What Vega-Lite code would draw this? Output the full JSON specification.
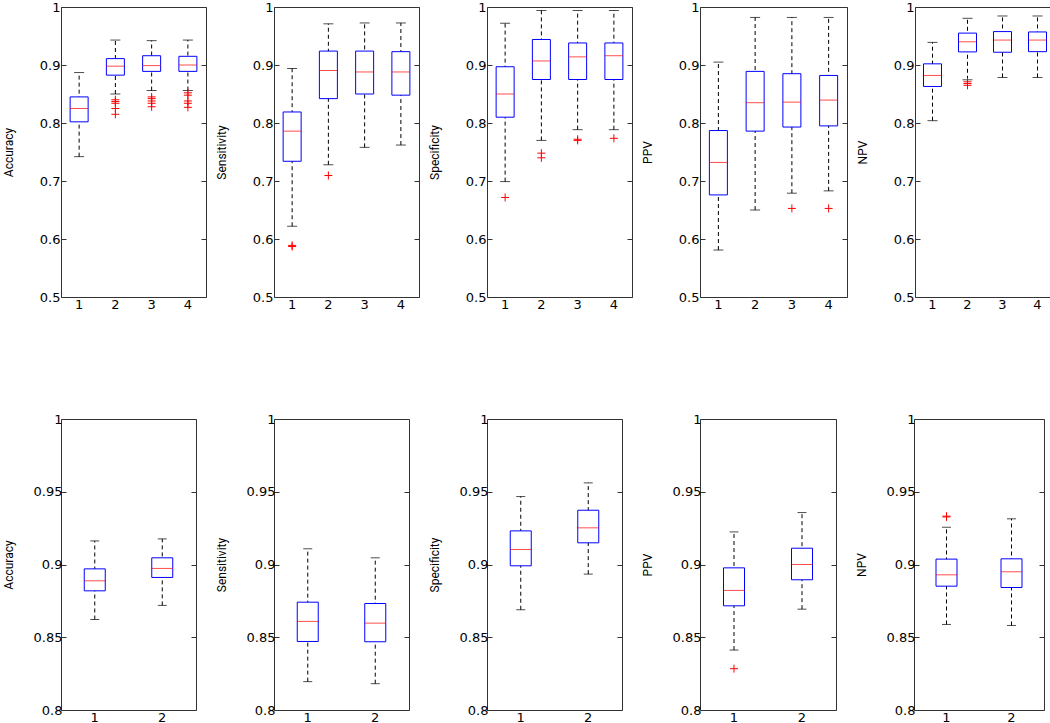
{
"$schema":"https://vega.github.io/schema/vega-lite/v6.json",
"padding":{"left":1,"top":0,"right":0,"bottom":0},
"background":"white",
"config":{
 "view":{"stroke":"#333333","strokeWidth":1},
 "axis":{"labelFont":"DejaVu Sans","labelFontSize":13,"labelColor":"#000","titleFont":"Roboto","titleFontSize":12,"titleFontWeight":"normal","titleColor":"#000","tickColor":"#333","domain":false,"grid":false}
},
"datasets":{
 "box":[
  {"p":"A1","g":1,"lo":0.742,"q1":0.802,"med":0.825,"q3":0.845,"hi":0.887},
  {"p":"A1","g":2,"lo":0.850,"q1":0.8825,"med":0.898,"q3":0.911,"hi":0.943},
  {"p":"A1","g":3,"lo":0.856,"q1":0.889,"med":0.899,"q3":0.916,"hi":0.942},
  {"p":"A1","g":4,"lo":0.856,"q1":0.889,"med":0.900,"q3":0.915,"hi":0.943},
  {"p":"B1","g":1,"lo":0.622,"q1":0.734,"med":0.786,"q3":0.819,"hi":0.894},
  {"p":"B1","g":2,"lo":0.728,"q1":0.842,"med":0.8905,"q3":0.924,"hi":0.971},
  {"p":"B1","g":3,"lo":0.758,"q1":0.850,"med":0.888,"q3":0.924,"hi":0.9725},
  {"p":"B1","g":4,"lo":0.762,"q1":0.848,"med":0.888,"q3":0.923,"hi":0.9725},
  {"p":"C1","g":1,"lo":0.699,"q1":0.810,"med":0.850,"q3":0.897,"hi":0.972},
  {"p":"C1","g":2,"lo":0.770,"q1":0.875,"med":0.907,"q3":0.944,"hi":0.994},
  {"p":"C1","g":3,"lo":0.7885,"q1":0.875,"med":0.914,"q3":0.938,"hi":0.994},
  {"p":"C1","g":4,"lo":0.7885,"q1":0.875,"med":0.916,"q3":0.938,"hi":0.994},
  {"p":"D1","g":1,"lo":0.581,"q1":0.676,"med":0.732,"q3":0.787,"hi":0.905},
  {"p":"D1","g":2,"lo":0.650,"q1":0.786,"med":0.835,"q3":0.889,"hi":0.982},
  {"p":"D1","g":3,"lo":0.679,"q1":0.793,"med":0.836,"q3":0.885,"hi":0.982},
  {"p":"D1","g":4,"lo":0.683,"q1":0.795,"med":0.8395,"q3":0.882,"hi":0.982},
  {"p":"E1","g":1,"lo":0.804,"q1":0.863,"med":0.882,"q3":0.902,"hi":0.939},
  {"p":"E1","g":2,"lo":0.8745,"q1":0.9226,"med":0.940,"q3":0.955,"hi":0.9805},
  {"p":"E1","g":3,"lo":0.8785,"q1":0.922,"med":0.943,"q3":0.9576,"hi":0.9845},
  {"p":"E1","g":4,"lo":0.8785,"q1":0.923,"med":0.943,"q3":0.957,"hi":0.9845},
  {"p":"A2","g":1,"lo":0.8622,"q1":0.8819,"med":0.8888,"q3":0.897,"hi":0.9162},
  {"p":"A2","g":2,"lo":0.8719,"q1":0.8911,"med":0.8973,"q3":0.9046,"hi":0.9176},
  {"p":"B2","g":1,"lo":0.8195,"q1":0.8471,"med":0.8609,"q3":0.8741,"hi":0.9108},
  {"p":"B2","g":2,"lo":0.8181,"q1":0.8469,"med":0.8597,"q3":0.8732,"hi":0.9046},
  {"p":"C2","g":1,"lo":0.8689,"q1":0.8991,"med":0.9103,"q3":0.9231,"hi":0.9467},
  {"p":"C2","g":2,"lo":0.8934,"q1":0.9149,"med":0.9252,"q3":0.9373,"hi":0.9561},
  {"p":"D2","g":1,"lo":0.8412,"q1":0.8716,"med":0.8822,"q3":0.8977,"hi":0.9224},
  {"p":"D2","g":2,"lo":0.8693,"q1":0.8895,"med":0.900,"q3":0.9112,"hi":0.9357},
  {"p":"E2","g":1,"lo":0.8588,"q1":0.8851,"med":0.8929,"q3":0.9037,"hi":0.9256},
  {"p":"E2","g":2,"lo":0.8581,"q1":0.8842,"med":0.895,"q3":0.9039,"hi":0.9314}
 ],
 "out":[
  {"p":"A1","g":2,"v":0.840},{"p":"A1","g":2,"v":0.837},{"p":"A1","g":2,"v":0.834},{"p":"A1","g":2,"v":0.825},{"p":"A1","g":2,"v":0.815},
  {"p":"A1","g":3,"v":0.845},{"p":"A1","g":3,"v":0.842},{"p":"A1","g":3,"v":0.838},{"p":"A1","g":3,"v":0.834},{"p":"A1","g":3,"v":0.828},
  {"p":"A1","g":4,"v":0.852},{"p":"A1","g":4,"v":0.848},{"p":"A1","g":4,"v":0.838},{"p":"A1","g":4,"v":0.834},{"p":"A1","g":4,"v":0.827},
  {"p":"B1","g":1,"v":0.589},{"p":"B1","g":1,"v":0.587},{"p":"B1","g":2,"v":0.7095},
  {"p":"C1","g":1,"v":0.6716},{"p":"C1","g":2,"v":0.748},{"p":"C1","g":2,"v":0.740},{"p":"C1","g":3,"v":0.772},{"p":"C1","g":3,"v":0.770},{"p":"C1","g":4,"v":0.7736},
  {"p":"D1","g":3,"v":0.6527},{"p":"D1","g":4,"v":0.6527},
  {"p":"E1","g":2,"v":0.871},{"p":"E1","g":2,"v":0.868},{"p":"E1","g":2,"v":0.865},
  {"p":"D2","g":1,"v":0.8284},
  {"p":"E2","g":1,"v":0.9327},{"p":"E2","g":1,"v":0.9332}
 ]
},
"spacing":100,
"vconcat":[
 {"bounds":"flush","spacing":68,"hconcat":[
  {"width":145,"height":290,"data":{"name":"box"},"transform":[{"filter":{"field":"p","equal":"A1"}}],
   "encoding":{"x":{"field":"g","type":"ordinal","scale":{"paddingInner":0,"paddingOuter":0},"axis":{"title":null,"labelAngle":0,"ticks":false,"labelPadding":1}}},
   "resolve":{"axis":{"y":"independent"}},
   "layer":[
    {"mark":{"type":"rule","strokeDash":[4,3],"color":"#000"},"encoding":{"y":{"field":"lo","type":"quantitative","scale":{"domain":[0.5,1],"nice":false,"zero":false},"axis":{"title":"Accuracy","orient":"left","values":[0.5,0.6,0.7,0.8,0.9,1],"format":".1~f","tickSize":-5,"labelPadding":6,"titlePadding":24}},"y2":{"field":"hi"}}},
    {"mark":{"type":"bar","width":18,"fill":"white","stroke":"#0000ff","strokeWidth":1},"encoding":{"y":{"field":"q1","type":"quantitative","scale":{"domain":[0.5,1],"nice":false,"zero":false},"axis":{"title":null,"orient":"right","values":[0.5,0.6,0.7,0.8,0.9,1],"labels":false,"tickSize":-5}},"y2":{"field":"q3"}}},
    {"mark":{"type":"tick","size":10,"thickness":1,"color":"#000"},"encoding":{"y":{"field":"lo","type":"quantitative","scale":{"domain":[0.5,1],"nice":false,"zero":false},"axis":null}}},
    {"mark":{"type":"tick","size":10,"thickness":1,"color":"#000"},"encoding":{"y":{"field":"hi","type":"quantitative","scale":{"domain":[0.5,1],"nice":false,"zero":false},"axis":null}}},
    {"mark":{"type":"tick","size":18,"thickness":1,"color":"#ff0000"},"encoding":{"y":{"field":"med","type":"quantitative","scale":{"domain":[0.5,1],"nice":false,"zero":false},"axis":null}}},
    {"data":{"name":"out"},"transform":[{"filter":{"field":"p","equal":"A1"}}],"mark":{"type":"point","shape":"M-1,0L1,0M0,-1L0,1","size":64,"stroke":"#ff0000","strokeWidth":1,"filled":false,"opacity":1},"encoding":{"y":{"field":"v","type":"quantitative","scale":{"domain":[0.5,1],"nice":false,"zero":false},"axis":null}}}
   ]},
  {"width":145,"height":290,"data":{"name":"box"},"transform":[{"filter":{"field":"p","equal":"B1"}}],
   "encoding":{"x":{"field":"g","type":"ordinal","scale":{"paddingInner":0,"paddingOuter":0},"axis":{"title":null,"labelAngle":0,"ticks":false,"labelPadding":1}}},
   "resolve":{"axis":{"y":"independent"}},
   "layer":[
    {"mark":{"type":"rule","strokeDash":[4,3],"color":"#000"},"encoding":{"y":{"field":"lo","type":"quantitative","scale":{"domain":[0.5,1],"nice":false,"zero":false},"axis":{"title":"Sensitivity","orient":"left","values":[0.5,0.6,0.7,0.8,0.9,1],"format":".1~f","tickSize":-5,"labelPadding":6,"titlePadding":24}},"y2":{"field":"hi"}}},
    {"mark":{"type":"bar","width":18,"fill":"white","stroke":"#0000ff","strokeWidth":1},"encoding":{"y":{"field":"q1","type":"quantitative","scale":{"domain":[0.5,1],"nice":false,"zero":false},"axis":{"title":null,"orient":"right","values":[0.5,0.6,0.7,0.8,0.9,1],"labels":false,"tickSize":-5}},"y2":{"field":"q3"}}},
    {"mark":{"type":"tick","size":10,"thickness":1,"color":"#000"},"encoding":{"y":{"field":"lo","type":"quantitative","scale":{"domain":[0.5,1],"nice":false,"zero":false},"axis":null}}},
    {"mark":{"type":"tick","size":10,"thickness":1,"color":"#000"},"encoding":{"y":{"field":"hi","type":"quantitative","scale":{"domain":[0.5,1],"nice":false,"zero":false},"axis":null}}},
    {"mark":{"type":"tick","size":18,"thickness":1,"color":"#ff0000"},"encoding":{"y":{"field":"med","type":"quantitative","scale":{"domain":[0.5,1],"nice":false,"zero":false},"axis":null}}},
    {"data":{"name":"out"},"transform":[{"filter":{"field":"p","equal":"B1"}}],"mark":{"type":"point","shape":"M-1,0L1,0M0,-1L0,1","size":64,"stroke":"#ff0000","strokeWidth":1,"filled":false,"opacity":1},"encoding":{"y":{"field":"v","type":"quantitative","scale":{"domain":[0.5,1],"nice":false,"zero":false},"axis":null}}}
   ]},
  {"width":145,"height":290,"data":{"name":"box"},"transform":[{"filter":{"field":"p","equal":"C1"}}],
   "encoding":{"x":{"field":"g","type":"ordinal","scale":{"paddingInner":0,"paddingOuter":0},"axis":{"title":null,"labelAngle":0,"ticks":false,"labelPadding":1}}},
   "resolve":{"axis":{"y":"independent"}},
   "layer":[
    {"mark":{"type":"rule","strokeDash":[4,3],"color":"#000"},"encoding":{"y":{"field":"lo","type":"quantitative","scale":{"domain":[0.5,1],"nice":false,"zero":false},"axis":{"title":"Specificity","orient":"left","values":[0.5,0.6,0.7,0.8,0.9,1],"format":".1~f","tickSize":-5,"labelPadding":6,"titlePadding":24}},"y2":{"field":"hi"}}},
    {"mark":{"type":"bar","width":18,"fill":"white","stroke":"#0000ff","strokeWidth":1},"encoding":{"y":{"field":"q1","type":"quantitative","scale":{"domain":[0.5,1],"nice":false,"zero":false},"axis":{"title":null,"orient":"right","values":[0.5,0.6,0.7,0.8,0.9,1],"labels":false,"tickSize":-5}},"y2":{"field":"q3"}}},
    {"mark":{"type":"tick","size":10,"thickness":1,"color":"#000"},"encoding":{"y":{"field":"lo","type":"quantitative","scale":{"domain":[0.5,1],"nice":false,"zero":false},"axis":null}}},
    {"mark":{"type":"tick","size":10,"thickness":1,"color":"#000"},"encoding":{"y":{"field":"hi","type":"quantitative","scale":{"domain":[0.5,1],"nice":false,"zero":false},"axis":null}}},
    {"mark":{"type":"tick","size":18,"thickness":1,"color":"#ff0000"},"encoding":{"y":{"field":"med","type":"quantitative","scale":{"domain":[0.5,1],"nice":false,"zero":false},"axis":null}}},
    {"data":{"name":"out"},"transform":[{"filter":{"field":"p","equal":"C1"}}],"mark":{"type":"point","shape":"M-1,0L1,0M0,-1L0,1","size":64,"stroke":"#ff0000","strokeWidth":1,"filled":false,"opacity":1},"encoding":{"y":{"field":"v","type":"quantitative","scale":{"domain":[0.5,1],"nice":false,"zero":false},"axis":null}}}
   ]},
  {"width":147,"height":290,"data":{"name":"box"},"transform":[{"filter":{"field":"p","equal":"D1"}}],
   "encoding":{"x":{"field":"g","type":"ordinal","scale":{"paddingInner":0,"paddingOuter":0},"axis":{"title":null,"labelAngle":0,"ticks":false,"labelPadding":1}}},
   "resolve":{"axis":{"y":"independent"}},
   "layer":[
    {"mark":{"type":"rule","strokeDash":[4,3],"color":"#000"},"encoding":{"y":{"field":"lo","type":"quantitative","scale":{"domain":[0.5,1],"nice":false,"zero":false},"axis":{"title":"PPV","orient":"left","values":[0.5,0.6,0.7,0.8,0.9,1],"format":".1~f","tickSize":-5,"labelPadding":6,"titlePadding":24}},"y2":{"field":"hi"}}},
    {"mark":{"type":"bar","width":18,"fill":"white","stroke":"#0000ff","strokeWidth":1},"encoding":{"y":{"field":"q1","type":"quantitative","scale":{"domain":[0.5,1],"nice":false,"zero":false},"axis":{"title":null,"orient":"right","values":[0.5,0.6,0.7,0.8,0.9,1],"labels":false,"tickSize":-5}},"y2":{"field":"q3"}}},
    {"mark":{"type":"tick","size":10,"thickness":1,"color":"#000"},"encoding":{"y":{"field":"lo","type":"quantitative","scale":{"domain":[0.5,1],"nice":false,"zero":false},"axis":null}}},
    {"mark":{"type":"tick","size":10,"thickness":1,"color":"#000"},"encoding":{"y":{"field":"hi","type":"quantitative","scale":{"domain":[0.5,1],"nice":false,"zero":false},"axis":null}}},
    {"mark":{"type":"tick","size":18,"thickness":1,"color":"#ff0000"},"encoding":{"y":{"field":"med","type":"quantitative","scale":{"domain":[0.5,1],"nice":false,"zero":false},"axis":null}}},
    {"data":{"name":"out"},"transform":[{"filter":{"field":"p","equal":"D1"}}],"mark":{"type":"point","shape":"M-1,0L1,0M0,-1L0,1","size":64,"stroke":"#ff0000","strokeWidth":1,"filled":false,"opacity":1},"encoding":{"y":{"field":"v","type":"quantitative","scale":{"domain":[0.5,1],"nice":false,"zero":false},"axis":null}}}
   ]},
  {"width":140,"height":290,"data":{"name":"box"},"transform":[{"filter":{"field":"p","equal":"E1"}}],
   "encoding":{"x":{"field":"g","type":"ordinal","scale":{"paddingInner":0,"paddingOuter":0},"axis":{"title":null,"labelAngle":0,"ticks":false,"labelPadding":1}}},
   "resolve":{"axis":{"y":"independent"}},
   "layer":[
    {"mark":{"type":"rule","strokeDash":[4,3],"color":"#000"},"encoding":{"y":{"field":"lo","type":"quantitative","scale":{"domain":[0.5,1],"nice":false,"zero":false},"axis":{"title":"NPV","orient":"left","values":[0.5,0.6,0.7,0.8,0.9,1],"format":".1~f","tickSize":-5,"labelPadding":6,"titlePadding":24}},"y2":{"field":"hi"}}},
    {"mark":{"type":"bar","width":18,"fill":"white","stroke":"#0000ff","strokeWidth":1},"encoding":{"y":{"field":"q1","type":"quantitative","scale":{"domain":[0.5,1],"nice":false,"zero":false},"axis":{"title":null,"orient":"right","values":[0.5,0.6,0.7,0.8,0.9,1],"labels":false,"tickSize":-5}},"y2":{"field":"q3"}}},
    {"mark":{"type":"tick","size":10,"thickness":1,"color":"#000"},"encoding":{"y":{"field":"lo","type":"quantitative","scale":{"domain":[0.5,1],"nice":false,"zero":false},"axis":null}}},
    {"mark":{"type":"tick","size":10,"thickness":1,"color":"#000"},"encoding":{"y":{"field":"hi","type":"quantitative","scale":{"domain":[0.5,1],"nice":false,"zero":false},"axis":null}}},
    {"mark":{"type":"tick","size":18,"thickness":1,"color":"#ff0000"},"encoding":{"y":{"field":"med","type":"quantitative","scale":{"domain":[0.5,1],"nice":false,"zero":false},"axis":null}}},
    {"data":{"name":"out"},"transform":[{"filter":{"field":"p","equal":"E1"}}],"mark":{"type":"point","shape":"M-1,0L1,0M0,-1L0,1","size":64,"stroke":"#ff0000","strokeWidth":1,"filled":false,"opacity":1},"encoding":{"y":{"field":"v","type":"quantitative","scale":{"domain":[0.5,1],"nice":false,"zero":false},"axis":null}}}
   ]}
 ]},
 {"bounds":"flush","spacing":78,"hconcat":[
  {"width":135,"height":291,"data":{"name":"box"},"transform":[{"filter":{"field":"p","equal":"A2"}}],
   "encoding":{"x":{"field":"g","type":"ordinal","scale":{"paddingInner":0,"paddingOuter":0},"axis":{"title":null,"labelAngle":0,"ticks":false,"labelPadding":1}}},
   "resolve":{"axis":{"y":"independent"}},
   "layer":[
    {"mark":{"type":"rule","strokeDash":[4,3],"color":"#000"},"encoding":{"y":{"field":"lo","type":"quantitative","scale":{"domain":[0.8,1],"nice":false,"zero":false},"axis":{"title":"Accuracy","orient":"left","values":[0.8,0.85,0.9,0.95,1],"format":".2~f","tickSize":-5,"labelPadding":4,"titlePadding":18}},"y2":{"field":"hi"}}},
    {"mark":{"type":"bar","width":21,"fill":"white","stroke":"#0000ff","strokeWidth":1},"encoding":{"y":{"field":"q1","type":"quantitative","scale":{"domain":[0.8,1],"nice":false,"zero":false},"axis":{"title":null,"orient":"right","values":[0.8,0.85,0.9,0.95,1],"labels":false,"tickSize":-5}},"y2":{"field":"q3"}}},
    {"mark":{"type":"tick","size":9,"thickness":1,"color":"#000"},"encoding":{"y":{"field":"lo","type":"quantitative","scale":{"domain":[0.8,1],"nice":false,"zero":false},"axis":null}}},
    {"mark":{"type":"tick","size":9,"thickness":1,"color":"#000"},"encoding":{"y":{"field":"hi","type":"quantitative","scale":{"domain":[0.8,1],"nice":false,"zero":false},"axis":null}}},
    {"mark":{"type":"tick","size":21,"thickness":1,"color":"#ff0000"},"encoding":{"y":{"field":"med","type":"quantitative","scale":{"domain":[0.8,1],"nice":false,"zero":false},"axis":null}}},
    {"data":{"name":"out"},"transform":[{"filter":{"field":"p","equal":"A2"}}],"mark":{"type":"point","shape":"M-1,0L1,0M0,-1L0,1","size":64,"stroke":"#ff0000","strokeWidth":1,"filled":false,"opacity":1},"encoding":{"y":{"field":"v","type":"quantitative","scale":{"domain":[0.8,1],"nice":false,"zero":false},"axis":null}}}
   ]},
  {"width":135,"height":291,"data":{"name":"box"},"transform":[{"filter":{"field":"p","equal":"B2"}}],
   "encoding":{"x":{"field":"g","type":"ordinal","scale":{"paddingInner":0,"paddingOuter":0},"axis":{"title":null,"labelAngle":0,"ticks":false,"labelPadding":1}}},
   "resolve":{"axis":{"y":"independent"}},
   "layer":[
    {"mark":{"type":"rule","strokeDash":[4,3],"color":"#000"},"encoding":{"y":{"field":"lo","type":"quantitative","scale":{"domain":[0.8,1],"nice":false,"zero":false},"axis":{"title":"Sensitivity","orient":"left","values":[0.8,0.85,0.9,0.95,1],"format":".2~f","tickSize":-5,"labelPadding":4,"titlePadding":18}},"y2":{"field":"hi"}}},
    {"mark":{"type":"bar","width":21,"fill":"white","stroke":"#0000ff","strokeWidth":1},"encoding":{"y":{"field":"q1","type":"quantitative","scale":{"domain":[0.8,1],"nice":false,"zero":false},"axis":{"title":null,"orient":"right","values":[0.8,0.85,0.9,0.95,1],"labels":false,"tickSize":-5}},"y2":{"field":"q3"}}},
    {"mark":{"type":"tick","size":9,"thickness":1,"color":"#000"},"encoding":{"y":{"field":"lo","type":"quantitative","scale":{"domain":[0.8,1],"nice":false,"zero":false},"axis":null}}},
    {"mark":{"type":"tick","size":9,"thickness":1,"color":"#000"},"encoding":{"y":{"field":"hi","type":"quantitative","scale":{"domain":[0.8,1],"nice":false,"zero":false},"axis":null}}},
    {"mark":{"type":"tick","size":21,"thickness":1,"color":"#ff0000"},"encoding":{"y":{"field":"med","type":"quantitative","scale":{"domain":[0.8,1],"nice":false,"zero":false},"axis":null}}},
    {"data":{"name":"out"},"transform":[{"filter":{"field":"p","equal":"B2"}}],"mark":{"type":"point","shape":"M-1,0L1,0M0,-1L0,1","size":64,"stroke":"#ff0000","strokeWidth":1,"filled":false,"opacity":1},"encoding":{"y":{"field":"v","type":"quantitative","scale":{"domain":[0.8,1],"nice":false,"zero":false},"axis":null}}}
   ]},
  {"width":135,"height":291,"data":{"name":"box"},"transform":[{"filter":{"field":"p","equal":"C2"}}],
   "encoding":{"x":{"field":"g","type":"ordinal","scale":{"paddingInner":0,"paddingOuter":0},"axis":{"title":null,"labelAngle":0,"ticks":false,"labelPadding":1}}},
   "resolve":{"axis":{"y":"independent"}},
   "layer":[
    {"mark":{"type":"rule","strokeDash":[4,3],"color":"#000"},"encoding":{"y":{"field":"lo","type":"quantitative","scale":{"domain":[0.8,1],"nice":false,"zero":false},"axis":{"title":"Specificity","orient":"left","values":[0.8,0.85,0.9,0.95,1],"format":".2~f","tickSize":-5,"labelPadding":4,"titlePadding":18}},"y2":{"field":"hi"}}},
    {"mark":{"type":"bar","width":21,"fill":"white","stroke":"#0000ff","strokeWidth":1},"encoding":{"y":{"field":"q1","type":"quantitative","scale":{"domain":[0.8,1],"nice":false,"zero":false},"axis":{"title":null,"orient":"right","values":[0.8,0.85,0.9,0.95,1],"labels":false,"tickSize":-5}},"y2":{"field":"q3"}}},
    {"mark":{"type":"tick","size":9,"thickness":1,"color":"#000"},"encoding":{"y":{"field":"lo","type":"quantitative","scale":{"domain":[0.8,1],"nice":false,"zero":false},"axis":null}}},
    {"mark":{"type":"tick","size":9,"thickness":1,"color":"#000"},"encoding":{"y":{"field":"hi","type":"quantitative","scale":{"domain":[0.8,1],"nice":false,"zero":false},"axis":null}}},
    {"mark":{"type":"tick","size":21,"thickness":1,"color":"#ff0000"},"encoding":{"y":{"field":"med","type":"quantitative","scale":{"domain":[0.8,1],"nice":false,"zero":false},"axis":null}}},
    {"data":{"name":"out"},"transform":[{"filter":{"field":"p","equal":"C2"}}],"mark":{"type":"point","shape":"M-1,0L1,0M0,-1L0,1","size":64,"stroke":"#ff0000","strokeWidth":1,"filled":false,"opacity":1},"encoding":{"y":{"field":"v","type":"quantitative","scale":{"domain":[0.8,1],"nice":false,"zero":false},"axis":null}}}
   ]},
  {"width":136,"height":291,"data":{"name":"box"},"transform":[{"filter":{"field":"p","equal":"D2"}}],
   "encoding":{"x":{"field":"g","type":"ordinal","scale":{"paddingInner":0,"paddingOuter":0},"axis":{"title":null,"labelAngle":0,"ticks":false,"labelPadding":1}}},
   "resolve":{"axis":{"y":"independent"}},
   "layer":[
    {"mark":{"type":"rule","strokeDash":[4,3],"color":"#000"},"encoding":{"y":{"field":"lo","type":"quantitative","scale":{"domain":[0.8,1],"nice":false,"zero":false},"axis":{"title":"PPV","orient":"left","values":[0.8,0.85,0.9,0.95,1],"format":".2~f","tickSize":-5,"labelPadding":4,"titlePadding":18}},"y2":{"field":"hi"}}},
    {"mark":{"type":"bar","width":21,"fill":"white","stroke":"#0000ff","strokeWidth":1},"encoding":{"y":{"field":"q1","type":"quantitative","scale":{"domain":[0.8,1],"nice":false,"zero":false},"axis":{"title":null,"orient":"right","values":[0.8,0.85,0.9,0.95,1],"labels":false,"tickSize":-5}},"y2":{"field":"q3"}}},
    {"mark":{"type":"tick","size":9,"thickness":1,"color":"#000"},"encoding":{"y":{"field":"lo","type":"quantitative","scale":{"domain":[0.8,1],"nice":false,"zero":false},"axis":null}}},
    {"mark":{"type":"tick","size":9,"thickness":1,"color":"#000"},"encoding":{"y":{"field":"hi","type":"quantitative","scale":{"domain":[0.8,1],"nice":false,"zero":false},"axis":null}}},
    {"mark":{"type":"tick","size":21,"thickness":1,"color":"#ff0000"},"encoding":{"y":{"field":"med","type":"quantitative","scale":{"domain":[0.8,1],"nice":false,"zero":false},"axis":null}}},
    {"data":{"name":"out"},"transform":[{"filter":{"field":"p","equal":"D2"}}],"mark":{"type":"point","shape":"M-1,0L1,0M0,-1L0,1","size":64,"stroke":"#ff0000","strokeWidth":1,"filled":false,"opacity":1},"encoding":{"y":{"field":"v","type":"quantitative","scale":{"domain":[0.8,1],"nice":false,"zero":false},"axis":null}}}
   ]},
  {"width":130,"height":291,"data":{"name":"box"},"transform":[{"filter":{"field":"p","equal":"E2"}}],
   "encoding":{"x":{"field":"g","type":"ordinal","scale":{"paddingInner":0,"paddingOuter":0},"axis":{"title":null,"labelAngle":0,"ticks":false,"labelPadding":1}}},
   "resolve":{"axis":{"y":"independent"}},
   "layer":[
    {"mark":{"type":"rule","strokeDash":[4,3],"color":"#000"},"encoding":{"y":{"field":"lo","type":"quantitative","scale":{"domain":[0.8,1],"nice":false,"zero":false},"axis":{"title":"NPV","orient":"left","values":[0.8,0.85,0.9,0.95,1],"format":".2~f","tickSize":-5,"labelPadding":4,"titlePadding":18}},"y2":{"field":"hi"}}},
    {"mark":{"type":"bar","width":21,"fill":"white","stroke":"#0000ff","strokeWidth":1},"encoding":{"y":{"field":"q1","type":"quantitative","scale":{"domain":[0.8,1],"nice":false,"zero":false},"axis":{"title":null,"orient":"right","values":[0.8,0.85,0.9,0.95,1],"labels":false,"tickSize":-5}},"y2":{"field":"q3"}}},
    {"mark":{"type":"tick","size":9,"thickness":1,"color":"#000"},"encoding":{"y":{"field":"lo","type":"quantitative","scale":{"domain":[0.8,1],"nice":false,"zero":false},"axis":null}}},
    {"mark":{"type":"tick","size":9,"thickness":1,"color":"#000"},"encoding":{"y":{"field":"hi","type":"quantitative","scale":{"domain":[0.8,1],"nice":false,"zero":false},"axis":null}}},
    {"mark":{"type":"tick","size":21,"thickness":1,"color":"#ff0000"},"encoding":{"y":{"field":"med","type":"quantitative","scale":{"domain":[0.8,1],"nice":false,"zero":false},"axis":null}}},
    {"data":{"name":"out"},"transform":[{"filter":{"field":"p","equal":"E2"}}],"mark":{"type":"point","shape":"M-1,0L1,0M0,-1L0,1","size":64,"stroke":"#ff0000","strokeWidth":1,"filled":false,"opacity":1},"encoding":{"y":{"field":"v","type":"quantitative","scale":{"domain":[0.8,1],"nice":false,"zero":false},"axis":null}}}
   ]}
 ]}
]
}
